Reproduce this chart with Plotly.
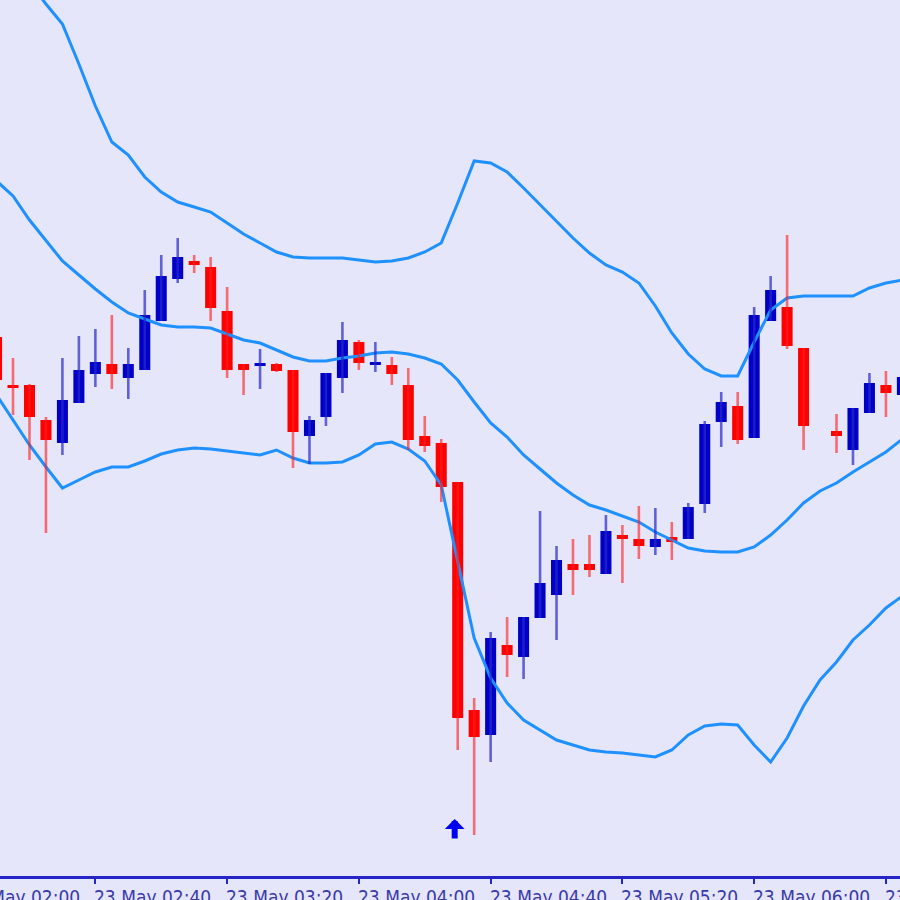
import plotly.graph_objects as go

# ---- candle data (5-minute bars, index 0 = 23 May 02:10) ----
opens = [1.10663, 1.10615, 1.10615, 1.10580, 1.10557, 1.10597, 1.10626, 1.10636, 1.10622, 1.10630,
         1.10679, 1.10721, 1.10739, 1.10733, 1.10689, 1.10636, 1.10634, 1.10636, 1.10630, 1.10564,
         1.10583, 1.10622, 1.10658, 1.10635, 1.10635, 1.10615, 1.10564, 1.10557, 1.10518, 1.10290,
         1.10265, 1.10355, 1.10343, 1.10382, 1.10405, 1.10436, 1.10436, 1.10426, 1.10465, 1.10461,
         1.10453, 1.10463, 1.10461, 1.10496, 1.10578, 1.10594, 1.10562, 1.10679, 1.10693, 1.10652,
         None, 1.10569, 1.10550, 1.10587, 1.10615, 1.10605]
highs = [1.10665, 1.10642, 1.10616, 1.10583, 1.10642, 1.10664, 1.10671, 1.10685, 1.10652, 1.10710,
         1.10745, 1.10762, 1.10745, 1.10743, 1.10713, 1.10636, 1.10651, 1.10637, 1.10630, 1.10584,
         1.10627, 1.10678, 1.10660, 1.10658, 1.10643, 1.10632, 1.10584, 1.10561, 1.10518, 1.10302,
         1.10368, 1.10383, 1.10383, 1.10489, 1.10454, 1.10461, 1.10465, 1.10485, 1.10475, 1.10494,
         1.10492, 1.10478, 1.10497, 1.10579, 1.10608, 1.10608, 1.10693, 1.10724, 1.10765, 1.10652,
         None, 1.10586, 1.10592, 1.10627, 1.10629, 1.10628]
lows = [1.10617, 1.10585, 1.10540, 1.10467, 1.10545, 1.10597, 1.10613, 1.10611, 1.10601, 1.10630,
        1.10679, 1.10717, 1.10727, 1.10679, 1.10622, 1.10605, 1.10611, 1.10628, 1.10532, 1.10536,
        1.10574, 1.10607, 1.10630, 1.10628, 1.10615, 1.10550, 1.10548, 1.10498, 1.10250, 1.10165,
        1.10238, 1.10323, 1.10321, 1.10382, 1.10360, 1.10405, 1.10423, 1.10426, 1.10417, 1.10441,
        1.10445, 1.10440, 1.10461, 1.10487, 1.10553, 1.10556, 1.10562, 1.10679, 1.10651, 1.10550,
        None, 1.10547, 1.10535, 1.10587, 1.10583, 1.10602]
closes = [1.10620, 1.10612, 1.10583, 1.10560, 1.10600, 1.10630, 1.10638, 1.10626, 1.10636, 1.10685,
          1.10724, 1.10743, 1.10735, 1.10692, 1.10630, 1.10630, 1.10637, 1.10629, 1.10568, 1.10580,
          1.10627, 1.10660, 1.10637, 1.10638, 1.10626, 1.10560, 1.10554, 1.10513, 1.10282, 1.10263,
          1.10362, 1.10345, 1.10383, 1.10417, 1.10440, 1.10430, 1.10430, 1.10469, 1.10461, 1.10454,
          1.10461, 1.10458, 1.10493, 1.10576, 1.10598, 1.10560, 1.10685, 1.10710, 1.10654, 1.10574,
          None, 1.10564, 1.10592, 1.10617, 1.10607, 1.10623]

# ---- Bollinger bands ----
upper = [1.11060, 1.11040, 1.11018, 1.10996, 1.10976, 1.10936, 1.10894, 1.10858, 1.10845, 1.10823,
         1.10808, 1.10798, 1.10793, 1.10788, 1.10777, 1.10766, 1.10757, 1.10748, 1.10743, 1.10742,
         1.10742, 1.10742, 1.10740, 1.10738, 1.10739, 1.10742, 1.10748, 1.10757, 1.10797, 1.10839,
         1.10837, 1.10828, 1.10812, 1.10795, 1.10778, 1.10762, 1.10747, 1.10735, 1.10728, 1.10717,
         1.10694, 1.10667, 1.10646, 1.10631, 1.10624, 1.10624, 1.10658, 1.10690, 1.10702, 1.10704,
         1.10704, 1.10704, 1.10704, 1.10712, 1.10717, 1.10720]
middle = [1.10819, 1.10804, 1.10780, 1.10760, 1.10739, 1.10725, 1.10711, 1.10698, 1.10687, 1.10681,
          1.10675, 1.10673, 1.10673, 1.10672, 1.10666, 1.10660, 1.10657, 1.10650, 1.10643, 1.10639,
          1.10639, 1.10642, 1.10644, 1.10647, 1.10648, 1.10646, 1.10642, 1.10636, 1.10620, 1.10598,
          1.10577, 1.10563, 1.10545, 1.10531, 1.10517, 1.10505, 1.10495, 1.10490, 1.10484, 1.10478,
          1.10468, 1.10460, 1.10452, 1.10449, 1.10448, 1.10448, 1.10453, 1.10465, 1.10480, 1.10497,
          1.10509, 1.10517, 1.10528, 1.10538, 1.10548, 1.10561]
lower = [1.10605, 1.10580, 1.10555, 1.10533, 1.10512, 1.10520, 1.10528, 1.10533, 1.10533, 1.10539,
         1.10546, 1.10550, 1.10552, 1.10551, 1.10549, 1.10547, 1.10545, 1.10550, 1.10542, 1.10537,
         1.10537, 1.10538, 1.10545, 1.10556, 1.10558, 1.10551, 1.10539, 1.10515, 1.10440, 1.10362,
         1.10322, 1.10297, 1.10280, 1.10270, 1.10260, 1.10255, 1.10250, 1.10248, 1.10247, 1.10245,
         1.10243, 1.10250, 1.10265, 1.10274, 1.10276, 1.10275, 1.10255, 1.10238, 1.10262, 1.10294,
         1.10320, 1.10338, 1.10360, 1.10375, 1.10392, 1.10404]

# ---- time axis ----
tick_idx = [-2, 6, 14, 22, 30, 38, 46, 54]
tick_labels = ["23 May 02:00", "23 May 02:40", "23 May 03:20", "23 May 04:00",
               "23 May 04:40", "23 May 05:20", "23 May 06:00", "23 May 06:40"]

# ---- buy signal arrow ----
signal_idx = [28]
signal_price = [1.10181]

BG = "#E6E6FA"
BULL = "#0000C8"
BEAR = "#FF0000"
BAND = "#1E90FF"
AXIS = "#2626C8"
TEXT = "#3A3AAA"

X_RANGE = [0.21, 54.855]
Y_RANGE = [1.10124, 1.11000]

idx = list(range(len(opens)))
fig = go.Figure()

for band in (upper, middle, lower):
    fig.add_trace(go.Scatter(x=idx, y=band, mode="lines",
                             line=dict(color=BAND, width=3), hoverinfo="skip"))

bull_x, bull_b, bull_h, bear_x, bear_b, bear_h = [], [], [], [], [], []
wick_bull_x, wick_bull_y, wick_bear_x, wick_bear_y = [], [], [], []
for i in idx:
    o, h, l, c = opens[i], highs[i], lows[i], closes[i]
    if o is None:
        continue
    if c >= o:
        bull_x.append(i); bull_b.append(o); bull_h.append(c - o)
        wick_bull_x += [i, i, None]; wick_bull_y += [l, h, None]
    else:
        bear_x.append(i); bear_b.append(c); bear_h.append(o - c)
        wick_bear_x += [i, i, None]; wick_bear_y += [l, h, None]

fig.add_trace(go.Scatter(x=wick_bull_x, y=wick_bull_y, mode="lines",
                         line=dict(color="rgba(40,40,200,0.7)", width=2.6), hoverinfo="skip"))
fig.add_trace(go.Scatter(x=wick_bear_x, y=wick_bear_y, mode="lines",
                         line=dict(color="rgba(255,30,30,0.62)", width=2.6), hoverinfo="skip"))
fig.add_trace(go.Bar(x=bull_x, y=bull_h, base=bull_b, width=0.67,
                     marker=dict(color=BULL, line=dict(width=0))))
fig.add_trace(go.Bar(x=bear_x, y=bear_h, base=bear_b, width=0.67,
                     marker=dict(color=BEAR, line=dict(width=0))))

for sx, sp in zip(signal_idx, signal_price):
    fig.add_annotation(x=sx, y=sp, xref="x", yref="y", text="", showarrow=True,
                       ax=0, ay=21, arrowhead=1, arrowsize=0.55, arrowwidth=6,
                       arrowcolor="#0000F0", xshift=-3)

span = X_RANGE[1] - X_RANGE[0]
for tx, tl in zip(tick_idx, tick_labels):
    fig.add_annotation(x=(tx - X_RANGE[0]) / span, y=0, xref="paper", yref="paper",
                       text=tl, showarrow=False,
                       xanchor="left", yanchor="top", xshift=-3, yshift=-8,
                       font=dict(family="DejaVu Sans Condensed, Liberation Sans, sans-serif",
                                 size=19, color=TEXT))

fig.update_layout(
    width=900, height=900,
    margin=dict(l=0, r=0, t=0, b=24),
    paper_bgcolor=BG, plot_bgcolor=BG,
    showlegend=False, barmode="overlay", hovermode=False,
    xaxis=dict(range=X_RANGE, showgrid=False, zeroline=False,
               showline=True, linecolor=AXIS, linewidth=2.5,
               tickvals=tick_idx, ticks="outside", ticklen=5, tickwidth=2,
               tickcolor=AXIS, showticklabels=False, fixedrange=True),
    yaxis=dict(range=Y_RANGE, visible=False, fixedrange=True),
)

fig.write_html("out.html", config={"displayModeBar": False},
               post_script="document.body.style.margin='0';document.body.style.overflow='hidden';")
